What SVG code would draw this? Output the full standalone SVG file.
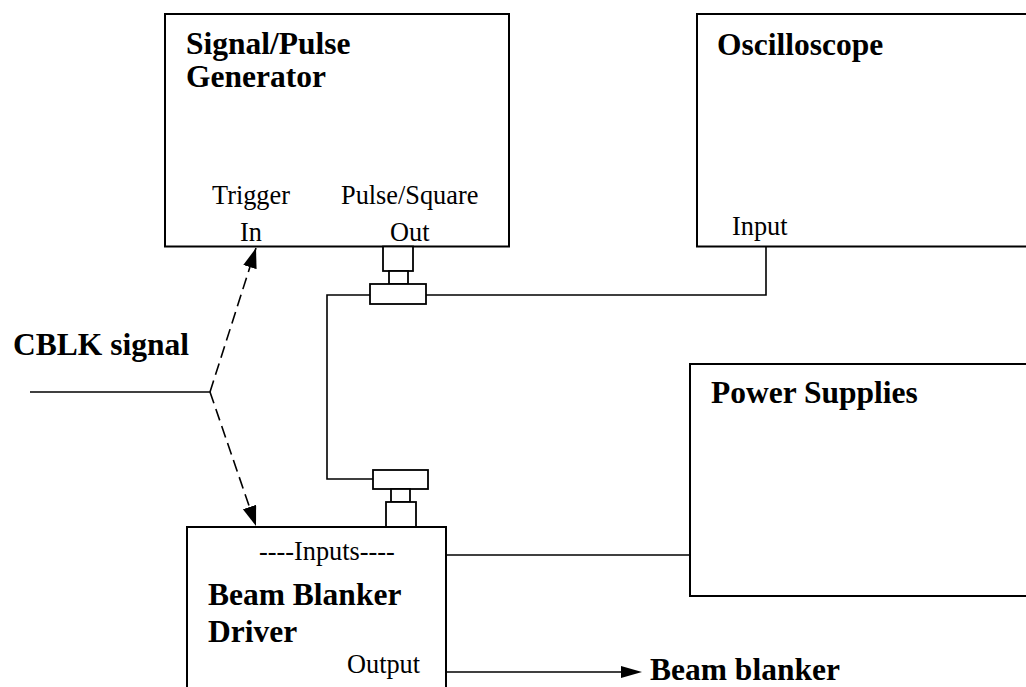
<svg xmlns="http://www.w3.org/2000/svg" width="1026" height="687" viewBox="0 0 1026 687">
<style>
.box{fill:#fff;stroke:#000;stroke-width:2}
.port{fill:#fff;stroke:#000;stroke-width:1.8}
.wire{fill:none;stroke:#000;stroke-width:1.6}
.dash{fill:none;stroke:#000;stroke-width:1.6;stroke-dasharray:12 6}
.t{font-family:"Liberation Serif","Times New Roman",serif;fill:#000}
.b{font-weight:bold;font-size:31.5px}
.r{font-size:26.3px}
</style>
<defs>
<marker id="ah" markerUnits="userSpaceOnUse" markerWidth="22" markerHeight="16" refX="20" refY="7" orient="auto">
<path d="M0,0 L20,7 L0,14 Z" fill="#000"/>
</marker>
</defs>
<rect width="1026" height="687" fill="#fff"/>
<g id="connectors">
<polyline class="wire" points="426,295 766,295 766,246"/>
<polyline class="wire" points="370,295 327,295 327,479 373,479"/>
<line class="wire" x1="446" y1="555" x2="697" y2="555"/>
<line class="wire" x1="446" y1="672" x2="624" y2="672" />
<path d="M621,666 L642,672 L621,678 Z" fill="#000"/>
<line class="wire" x1="30" y1="392" x2="210" y2="392"/>
<line class="dash" x1="210" y1="392" x2="256" y2="248" marker-end="url(#ah)"/>
<line class="dash" x1="210" y1="392" x2="256" y2="526" marker-end="url(#ah)"/>
</g>
<g id="signal-generator">
<rect class="box" x="165" y="14" width="344" height="232.5"/>
<text class="t b" x="186" y="54">Signal/Pulse</text>
<text class="t b" x="186" y="87">Generator</text>
<text class="t r" x="212" y="204">Trigger</text>
<text class="t r" x="240" y="241">In</text>
<text class="t r" x="341" y="204">Pulse/Square</text>
<text class="t r" x="390" y="241">Out</text>
</g>
<g id="generator-port">
<rect class="port" x="383" y="246.5" width="30" height="24.5"/>
<rect class="port" x="389" y="271" width="19" height="13"/>
<rect class="port" x="370" y="284" width="56" height="20"/>
</g>
<g id="oscilloscope">
<rect class="box" x="697" y="14" width="345" height="232.5"/>
<text class="t b" x="717" y="55">Oscilloscope</text>
<text class="t r" x="732" y="235">Input</text>
</g>
<g id="power-supplies">
<rect class="box" x="690" y="364" width="350" height="232"/>
<text class="t b" x="711" y="403">Power Supplies</text>
</g>
<g id="driver-port">
<rect class="port" x="373" y="470" width="55" height="19"/>
<rect class="port" x="391" y="489" width="19" height="13"/>
<rect class="port" x="386" y="502" width="30" height="25"/>
</g>
<g id="beam-blanker-driver">
<rect class="box" x="187" y="527" width="259" height="175"/>
<text class="t r" x="259" y="560">----Inputs----</text>
<text class="t b" x="208" y="605">Beam Blanker</text>
<text class="t b" x="208" y="642">Driver</text>
<text class="t r" x="347" y="673">Output</text>
</g>
<g id="cblk-signal">
<text class="t b" x="13" y="355">CBLK signal</text>
</g>
<g id="beam-blanker">
<text class="t b" x="650" y="680">Beam blanker</text>
</g>
</svg>
